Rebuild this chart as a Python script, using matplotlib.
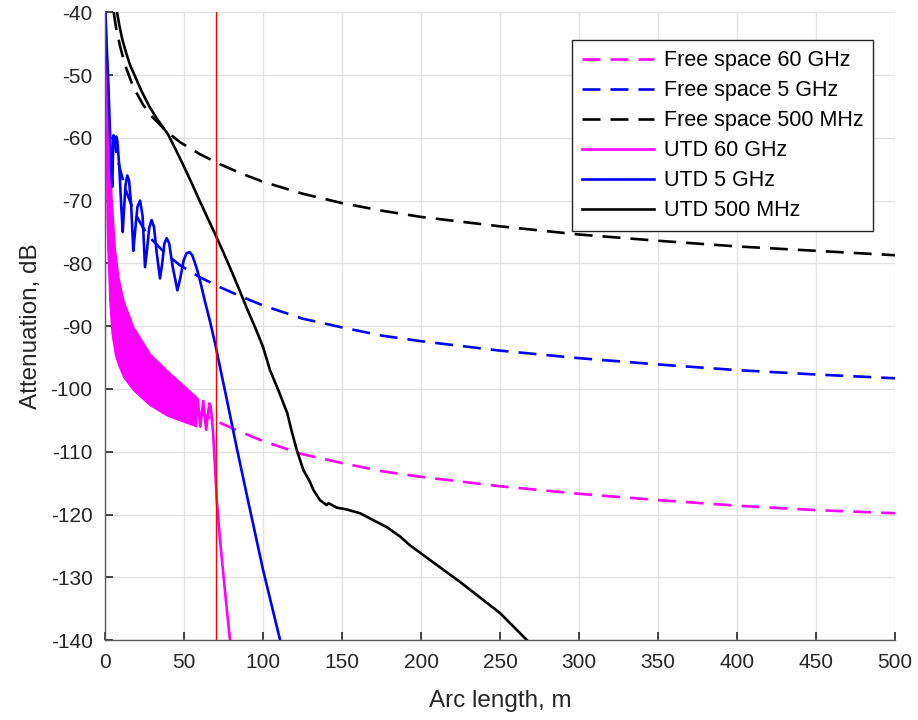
import matplotlib
matplotlib.use("Agg")
import matplotlib.pyplot as plt

plt.rcParams['font.family'] = ['Liberation Sans', 'DejaVu Sans']
plt.rcParams['axes.unicode_minus'] = False

# ---- free-space reference curves ----
fs_x = [5.5, 7, 9.5, 12.7, 17.7, 24, 30, 39, 47.5, 60, 72.8, 85.4, 100, 125,
        150, 175, 200, 250, 300, 350, 400, 450, 500]
fs60_y = [-81.2, -83.7, -86.6, -89.6, -93.0, -95.9, -97.9, -100.2, -101.9,
          -103.8, -105.4, -106.8, -108.3, -110.4, -111.8, -113.1, -114.0,
          -115.5, -116.7, -117.7, -118.6, -119.3, -119.8]
fs5_y = [-59.6, -62.1, -65.0, -68.0, -71.4, -74.3, -76.3, -78.6, -80.3,
         -82.2, -83.8, -85.2, -86.7, -88.8, -90.2, -91.5, -92.4, -93.9,
         -95.1, -96.1, -97.0, -97.7, -98.3]
fs500_y = [-40.0, -42.5, -45.4, -48.4, -51.8, -54.7, -56.7, -59.0, -60.7,
           -62.6, -64.2, -65.6, -67.0, -68.9, -70.4, -71.6, -72.6, -74.1,
           -75.4, -76.4, -77.3, -78.0, -78.7]

# ---- UTD 60 GHz: dense fringe band (upper / lower envelopes) + tail ----
band_x = [0.3, 1.0, 1.5, 2.5, 2.7, 4.0, 4.2, 6.3, 7.4, 8.4, 11.6, 17.9,
          28.5, 39.0, 49.6, 57.5]
band_hi = [-40.0, -46.0, -50.0, -58.0, -59.0, -69.0, -70.0, -77.9, -80.0,
           -82.1, -85.9, -90.1, -94.4, -97.0, -99.4, -101.2]
band_lo = [-55.0, -72.0, -77.9, -84.0, -85.9, -90.5, -91.2, -94.5, -95.4,
           -96.2, -98.1, -100.2, -102.6, -104.2, -105.2, -105.9]
utd60_x = [57.5, 58.7, 60.3, 62.2, 64.0, 66.0, 66.8, 67.6, 68.5, 69.6, 70.7,
           72.8, 75.0, 77.0, 79.1]
utd60_y = [-105.9, -101.6, -106.0, -101.9, -106.5, -102.3, -102.8, -104.5,
           -107.5, -112.4, -117.7, -124.1, -129.8, -134.9, -140.0]

# ---- UTD 5 GHz ----
utd5_x = [0.3, 1.0, 2.1, 3.2, 4.0, 4.6, 5.0, 5.4, 6.0, 6.5, 7.1, 7.8, 9.0,
          10.2, 11.2, 12.0, 13.0, 14.1, 15.2, 16.5, 17.9, 19.0, 20.5, 22.2,
          23.8, 25.3, 26.5, 28.0, 29.5, 31.0, 32.8, 34.8, 36.2, 37.6, 39.0,
          40.6, 42.8, 45.8, 47.5, 49.8, 51.5, 53.4, 55.2, 57.0, 58.5, 60.0,
          63.0, 66.5, 69.6, 73.0, 77.0, 83.3, 90.0, 100.0, 110.8]
utd5_y = [-40.0, -45.0, -51.3, -59.5, -65.5, -67.8, -63.0, -59.6, -60.8,
          -61.0, -59.8, -60.5, -64.5, -70.5, -75.0, -71.5, -67.5, -66.0,
          -66.8, -70.5, -78.0, -75.0, -71.0, -70.0, -72.5, -80.6, -78.0,
          -74.3, -73.1, -74.2, -78.5, -82.4, -80.0, -76.8, -76.0, -76.8,
          -80.5, -84.3, -82.5, -79.5, -78.4, -78.2, -78.7, -80.0, -81.2,
          -82.6, -85.8, -89.3, -92.7, -96.8, -101.6, -109.3, -117.2, -128.8,
          -140.0]

# ---- UTD 500 MHz ----
utd500_x = [7.6, 9.0, 11.0, 13.5, 16.0, 19.0, 23.0, 28.0, 33.0, 40.0, 45.0,
            50.0, 55.0, 60.0, 65.0, 70.0, 75.0, 80.0, 85.0, 90.0, 95.0, 100.0,
            104.4, 109.7, 115.4, 118.0, 121.3, 125.5, 129.7, 131.9, 136.0,
            140.3, 141.5, 146.6, 153.0, 161.4, 169.8, 178.3, 186.7, 193.0,
            200.0, 225.0, 250.0, 267.0]
utd500_y = [-40.0, -42.0, -44.4, -46.6, -48.5, -50.2, -52.5, -55.0, -57.0,
            -59.5, -62.0, -64.6, -67.3, -70.1, -72.8, -75.5, -78.3, -81.2,
            -84.2, -87.3, -90.2, -93.3, -97.0, -100.2, -103.9, -106.6,
            -109.7, -112.9, -114.8, -116.1, -117.7, -118.5, -118.2, -118.9,
            -119.2, -119.8, -120.9, -122.0, -123.5, -124.9, -126.2, -130.8,
            -135.7, -140.0]

marker_x = 70

fig = plt.figure(figsize=(9.18, 7.2), dpi=100)
ax = fig.add_axes([0.1144, 0.111, 0.8606, 0.872])

lw = 1.9
dash = (6.8, 3.8)
ax.plot(fs_x, fs60_y, color='#ff00ff', lw=lw, ls=(0, dash), label='Free space 60 GHz')
ax.plot(fs_x, fs5_y, color='#0000ff', lw=lw, ls=(0, dash), label='Free space 5 GHz')
ax.plot(fs_x, fs500_y, color='black', lw=lw, ls=(0, dash), label='Free space 500 MHz')

ax.fill_between(band_x, band_lo, band_hi, color='#ff00ff', lw=1.0, edgecolor='#ff00ff')
ax.plot(utd60_x, utd60_y, color='#ff00ff', lw=lw, label='UTD 60 GHz')
ax.plot(utd5_x, utd5_y, color='#0000ff', lw=lw, label='UTD 5 GHz')
ax.plot(utd500_x, utd500_y, color='black', lw=lw, label='UTD 500 MHz')

ax.axvline(marker_x, color='#ff0000', lw=1.0)

ax.set_xlim(0, 500)
ax.set_ylim(-140, -40)
ax.set_xticks(range(0, 501, 50))
ax.set_yticks(range(-140, -39, 10))
ax.grid(True, color='#e3e3e3', lw=1.0)
ax.set_axisbelow(True)
for s in ('top', 'right'):
    ax.spines[s].set_visible(False)
for s in ('left', 'bottom'):
    ax.spines[s].set_color('#5a5a5a')
    ax.spines[s].set_linewidth(1.0)
ax.tick_params(direction='in', length=6, width=1.2, color='#262626',
               labelsize=15, labelcolor='#262626', pad=9)
ax.set_xlabel('Arc length, m', fontsize=17.5, color='#262626', labelpad=13)
ax.set_ylabel('Attenuation, dB', fontsize=17.5, color='#262626', labelpad=6)

leg = ax.legend(loc='upper right', bbox_to_anchor=(0.972, 0.955),
                borderaxespad=0, fontsize=15.5, handlelength=3.35,
                handletextpad=0.45, borderpad=0.45, labelspacing=0.42,
                fancybox=False, framealpha=1, edgecolor='#262626')
leg.get_frame().set_linewidth(1.0)

fig.savefig('out.png', dpi=100)
